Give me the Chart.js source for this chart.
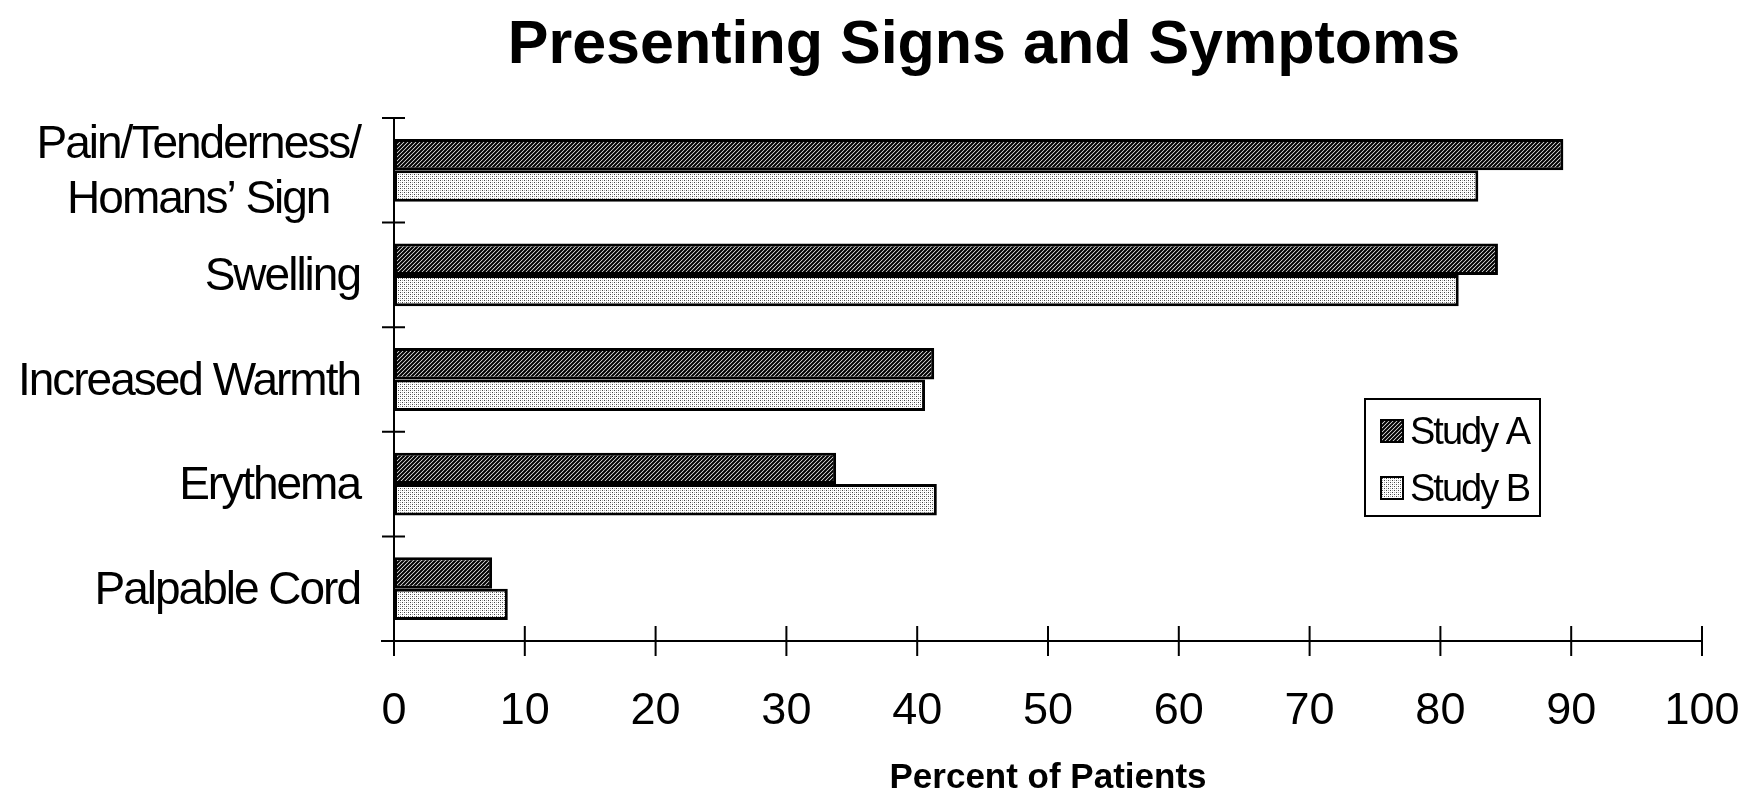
<!DOCTYPE html>
<html>
<head>
<meta charset="utf-8">
<script src="https://cdn.jsdelivr.net/npm/chart.js@4.4.1/dist/chart.umd.min.js"></script>
<style>
  html, body { margin: 0; padding: 0; background: #fff; }
  #wrap { width: 1748px; height: 796px; }
</style>
</head>
<body>
<div id="wrap"><canvas id="chart" width="1748" height="796"></canvas></div>
<script>
// Presenting signs and symptoms, percent of patients per study
const chartTitle = "Presenting Signs and Symptoms";
const axisTitle = "Percent of Patients";
const categories = [["Pain/Tenderness/", "Homans\u2019 Sign"], "Swelling", "Increased Warmth", "Erythema", "Palpable Cord"];
const seriesNames = ["Study A", "Study B"];
const studyA = [89.4, 84.4, 41.3, 33.8, 7.5];
const studyB = [82.9, 81.4, 40.6, 41.5, 8.7];
const percentTicks = [0, 10, 20, 30, 40, 50, 60, 70, 80, 90, 100];

const SANS = '"Liberation Sans", Arial, Helvetica, sans-serif';

const canvas = document.getElementById("chart");
const ctx = canvas.getContext("2d");

// Diagonal hatch fill for Study A
function makeHatch() {
  const t = document.createElement("canvas");
  t.width = 4; t.height = 4;
  const g = t.getContext("2d");
  g.fillStyle = "#fff"; g.fillRect(0, 0, 4, 4);
  g.strokeStyle = "#000"; g.lineWidth = 2.1;
  g.beginPath();
  g.moveTo(-1, 5); g.lineTo(5, -1);
  g.moveTo(-1, 1); g.lineTo(1, -1);
  g.moveTo(3, 5); g.lineTo(5, 3);
  g.stroke();
  return ctx.createPattern(t, "repeat");
}
// Light stipple fill for Study B
function makeStipple() {
  const t = document.createElement("canvas");
  t.width = 4; t.height = 4;
  const g = t.getContext("2d");
  g.fillStyle = "#fff"; g.fillRect(0, 0, 4, 4);
  g.fillStyle = "#444";
  g.fillRect(0, 0, 1, 1);
  g.fillRect(2, 2, 1, 1);
  g.fillStyle = "#aaa";
  g.fillRect(2, 0, 1, 1);
  g.fillRect(0, 2, 1, 1);
  return ctx.createPattern(t, "repeat");
}
const fills = [makeHatch(), makeStipple()];

// Axis lines with crossing tick marks, category labels, legend box and title
const decorations = {
  id: "decorations",
  afterDatasetsDraw(chart) {
    const { ctx, chartArea: a, scales: { x, y } } = chart;
    const x0 = x.getPixelForValue(0);
    ctx.save();
    ctx.strokeStyle = "#000";
    ctx.lineWidth = 2;
    ctx.beginPath();
    ctx.moveTo(x0, a.top); ctx.lineTo(x0, a.bottom + 15);
    ctx.moveTo(x0 - 13, a.bottom); ctx.lineTo(x.getPixelForValue(100), a.bottom);
    x.ticks.forEach(t => {
      const px = x.getPixelForValue(t.value);
      ctx.moveTo(px, a.bottom - 15); ctx.lineTo(px, a.bottom + 15);
    });
    const n = chart.data.labels.length;
    for (let i = 0; i < n; i++) {
      const py = y.getPixelForValue(i - 0.5);
      ctx.moveTo(x0 - 12, py); ctx.lineTo(x0 + 11, py);
    }
    ctx.stroke();
    ctx.restore();
  },
  afterDraw(chart) {
    const { ctx, scales: { x, y } } = chart;
    const x0 = x.getPixelForValue(0);
    ctx.save();
    ctx.fillStyle = "#000";

    // category labels
    ctx.font = "46px " + SANS;
    ctx.letterSpacing = "-2px";
    ctx.textBaseline = "alphabetic";
    const right = x0 - 34;
    chart.data.labels.forEach((lab, i) => {
      const py = y.getPixelForValue(i);
      const lines = Array.isArray(lab) ? lab : [lab];
      if (lines.length === 1) {
        ctx.textAlign = "right";
        ctx.fillText(lines[0], right, py + 15);
      } else {
        const w = Math.max(...lines.map(l => ctx.measureText(l).width));
        ctx.textAlign = "center";
        lines.forEach((l, k) => {
          ctx.fillText(l, right - w / 2, py + 15 + (k - (lines.length - 1) / 2) * 55);
        });
      }
    });

    // title
    ctx.letterSpacing = "0px";
    ctx.font = "bold 61px " + SANS;
    ctx.textAlign = "center";
    ctx.fillText(chartTitle, 984, 63);

    // legend
    const bx = 1365, by = 399, bw = 175, bh = 117;
    ctx.lineWidth = 2;
    ctx.strokeStyle = "#000";
    ctx.strokeRect(bx, by, bw, bh);
    ctx.font = "38px " + SANS;
    ctx.letterSpacing = "-2px";
    ctx.textAlign = "left";
    chart.data.datasets.forEach((ds, k) => {
      const sy = by + 21 + k * 57;
      ctx.fillStyle = ds.backgroundColor;
      ctx.fillRect(bx + 16, sy, 22, 22);
      ctx.lineWidth = 2;
      ctx.strokeRect(bx + 16, sy, 22, 22);
      ctx.fillStyle = "#000";
      ctx.fillText(ds.label, bx + 45, sy + 24);
    });
    ctx.restore();
  }
};

new Chart(ctx, {
  type: "bar",
  data: {
    labels: categories,
    datasets: [
      { label: seriesNames[0], data: studyA, backgroundColor: fills[0], borderColor: "#000", borderWidth: 3, borderSkipped: false },
      { label: seriesNames[1], data: studyB, backgroundColor: fills[1], borderColor: "#000", borderWidth: 3, borderSkipped: false }
    ]
  },
  options: {
    indexAxis: "y",
    responsive: false,
    animation: false,
    devicePixelRatio: 1,
    layout: { padding: { top: 118, right: 46, bottom: 0, left: 0 } },
    datasets: { bar: { categoryPercentage: 0.6, barPercentage: 1.0 } },
    scales: {
      x: {
        min: percentTicks[0],
        max: percentTicks[percentTicks.length - 1],
        afterBuildTicks(s) { s.ticks = percentTicks.map(v => ({ value: v })); },
        ticks: { color: "#000", font: { family: SANS, size: 45, lineHeight: 1 }, padding: 48, maxRotation: 0 },
        grid: { display: false, drawTicks: false },
        border: { display: false },
        title: { display: true, text: axisTitle, color: "#000", font: { family: SANS, size: 35, weight: "bold", lineHeight: 1 }, padding: 0 },
        afterFit(s) { s.height = 155; s.paddingLeft = 0; s.paddingRight = 0; }
      },
      y: {
        ticks: { display: false },
        grid: { display: false, drawTicks: false },
        border: { display: false },
        afterFit(s) { s.width = 394; }
      }
    },
    plugins: { legend: { display: false }, tooltip: { enabled: false }, title: { display: false } }
  },
  plugins: [decorations]
});
</script>
</body>
</html>
